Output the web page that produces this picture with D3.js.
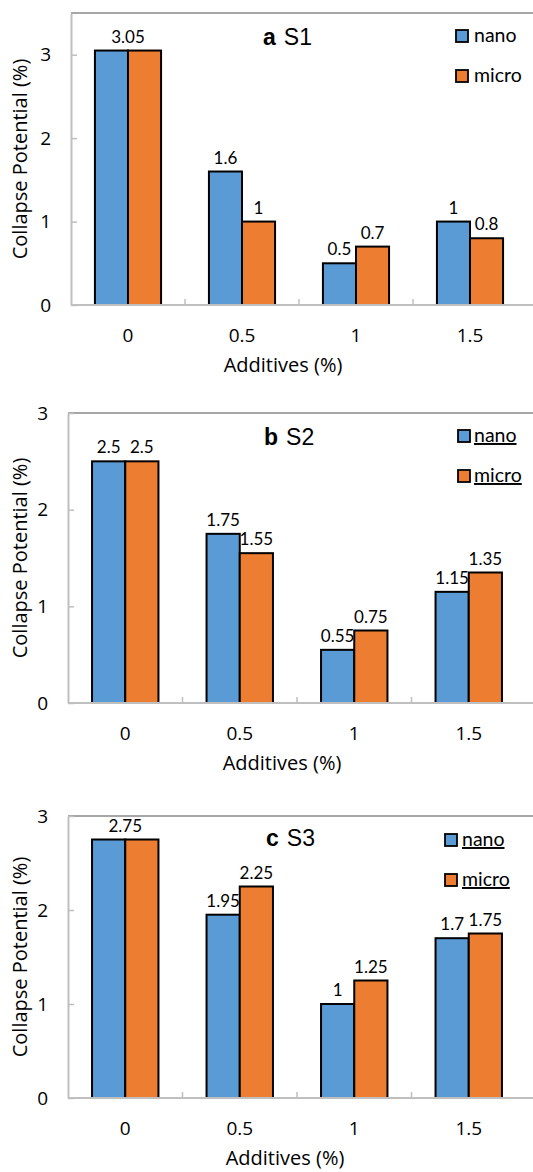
<!DOCTYPE html>
<html>
<head>
<meta charset="utf-8">
<script src="https://cdn.jsdelivr.net/npm/d3@7"></script>
<style>
  body { margin: 0; background: #fff; }
  svg { display: block; }
</style>
</head>
<body>
<svg id="chart" width="533" height="1172"></svg>
<script>
// data
var categories = ["0", "0.5", "1", "1.5"];
var seriesNames = ["nano", "micro"];
var nanoS1 = [3.05, 1.6, 0.5, 1];
var microS1 = [3.05, 1, 0.7, 0.8];
var nanoS2 = [2.5, 1.75, 0.55, 1.15];
var microS2 = [2.5, 1.55, 0.75, 1.35];
var nanoS3 = [2.75, 1.95, 1, 1.7];
var microS3 = [2.75, 2.25, 1.25, 1.75];
var yTicks = [0, 1, 2, 3];
var yMaxes = [3.5, 3, 3];
var panelLetters = ["a", "b", "c"];
var panelNames = ["S1", "S2", "S3"];

var colors = ["#5B9BD5", "#ED7D31"];

// layout of each panel (pixels)
var layout = [
  { left: 71, right: 527, top: 13, bottom: 305, titleX: 263, titleY: 45, legX: 456, legY: 42, legText: 474, legUnder: false, xTitleX: 283 },
  { left: 68, right: 526, top: 413, bottom: 703, titleX: 264, titleY: 445, legX: 458, legY: 442, legText: 474, legUnder: true, xTitleX: 282 },
  { left: 68, right: 526, top: 816, bottom: 1098, titleX: 266, titleY: 846, legX: 445, legY: 846, legText: 462, legUnder: true, xTitleX: 285 }
];

var values = [[nanoS1, microS1], [nanoS2, microS2], [nanoS3, microS3]];

var svg = d3.select("#chart");
var axisFont = "'Open Sans', 'Noto Sans', sans-serif";
var labelFont = "Lato, 'Noto Sans', sans-serif";

layout.forEach(function(L, p) {
  var g = svg.append("g");

  var x = d3.scaleBand()
    .domain(categories)
    .range([L.left, L.right])
    .paddingInner(0.42)
    .paddingOuter(0.21);

  var xs = d3.scaleBand()
    .domain(seriesNames)
    .range([0, x.bandwidth()]);

  var y = d3.scaleLinear()
    .domain([0, yMaxes[p]])
    .range([L.bottom, L.top]);

  // top border
  g.append("line")
    .attr("x1", L.left).attr("x2", 533)
    .attr("y1", L.top).attr("y2", L.top)
    .style("stroke", "#A6A6A6").style("stroke-width", 2);

  // y axis, ticks pointing inward
  var yAxis = g.append("g")
    .attr("transform", "translate(" + L.left + ",0)")
    .call(d3.axisLeft(y).tickValues(yTicks).tickFormat(d3.format("d"))
      .tickSizeInner(-6).tickSizeOuter(0).tickPadding(20));
  yAxis.select(".domain").style("stroke", "#BFBFBF").style("stroke-width", 2);
  yAxis.selectAll(".tick line").style("stroke", "#BFBFBF").style("stroke-width", 1.5);
  yAxis.selectAll("text")
    .style("font-family", axisFont).style("font-size", "19px").style("fill", "#000");

  // bars
  var groups = g.selectAll(".grp")
    .data(categories)
    .enter().append("g")
    .attr("transform", function(d) { return "translate(" + x(d) + ",0)"; });

  groups.selectAll("rect")
    .data(function(d, i) {
      return seriesNames.map(function(s, k) { return { s: s, k: k, v: values[p][k][i] }; });
    })
    .enter().append("rect")
    .attr("x", function(d) { return xs(d.s); })
    .attr("width", xs.bandwidth())
    .attr("y", function(d) { return y(d.v); })
    .attr("height", function(d) { return y(0) - y(d.v); })
    .style("fill", function(d) { return colors[d.k]; })
    .style("stroke", "#000")
    .style("stroke-width", 2);

  // x axis baseline
  g.append("line")
    .attr("x1", L.left).attr("x2", 533)
    .attr("y1", y(0)).attr("y2", y(0))
    .style("stroke", "#BFBFBF").style("stroke-width", 2);

  // tick marks between categories
  var step = x.step();
  g.selectAll(".xtick")
    .data(categories.slice(1))
    .enter().append("line")
    .attr("x1", function(d) { return x(d) - step * x.paddingInner() / 2; })
    .attr("x2", function(d) { return x(d) - step * x.paddingInner() / 2; })
    .attr("y1", y(0)).attr("y2", y(0) - 6)
    .style("stroke", "#BFBFBF").style("stroke-width", 1.5);

  // category labels
  g.selectAll(".xlab")
    .data(categories)
    .enter().append("text")
    .attr("x", function(d) { return x(d) + x.bandwidth() / 2; })
    .attr("y", y(0) + 37)
    .attr("text-anchor", "middle")
    .style("font-family", axisFont).style("font-size", "19px")
    .text(function(d) { return d; });

  // data labels; equal long labels on a pair are shown once over the pair
  categories.forEach(function(c, i) {
    var a = values[p][0][i], b = values[p][1][i];
    var merged = a === b && String(a).length > 3;
    seriesNames.forEach(function(s, k) {
      if (merged && k === 1) return;
      var v = values[p][k][i];
      var cx = merged ? x(c) + x.bandwidth() / 2 : x(c) + xs(s) + xs.bandwidth() / 2;
      g.append("text")
        .attr("x", cx)
        .attr("y", y(v) - 8)
        .attr("text-anchor", "middle")
        .style("font-family", labelFont).style("font-size", "17px")
        .text(String(v));
    });
  });

  // panel title
  var t = g.append("text")
    .attr("x", L.titleX).attr("y", L.titleY)
    .style("font-family", "'Liberation Sans', Arial, sans-serif").style("font-size", "23px");
  t.append("tspan").style("font-weight", "bold").text(panelLetters[p]);
  t.append("tspan").attr("dx", 8).text(panelNames[p]);

  // legend
  seriesNames.forEach(function(s, k) {
    var ly = L.legY + k * 40;
    g.append("rect")
      .attr("x", L.legX).attr("y", ly - 12)
      .attr("width", 12).attr("height", 12)
      .style("fill", colors[k]).style("stroke", "#000").style("stroke-width", 1.8);
    g.append("text")
      .attr("x", L.legText).attr("y", ly)
      .style("font-family", labelFont).style("font-size", "19.5px")
      .style("text-decoration", L.legUnder ? "underline" : "none")
      .text(s);
  });

  // axis titles
  g.append("text")
    .attr("x", L.xTitleX).attr("y", L.bottom + 67)
    .attr("text-anchor", "middle")
    .style("font-family", axisFont).style("font-size", "20px")
    .text("Additives (%)");

  g.append("text")
    .attr("transform", "translate(27," + ((L.top + L.bottom) / 2) + ") rotate(-90)")
    .attr("text-anchor", "middle")
    .style("font-family", axisFont).style("font-size", "20px")
    .text("Collapse Potential (%)");
});
</script>
</body>
</html>
